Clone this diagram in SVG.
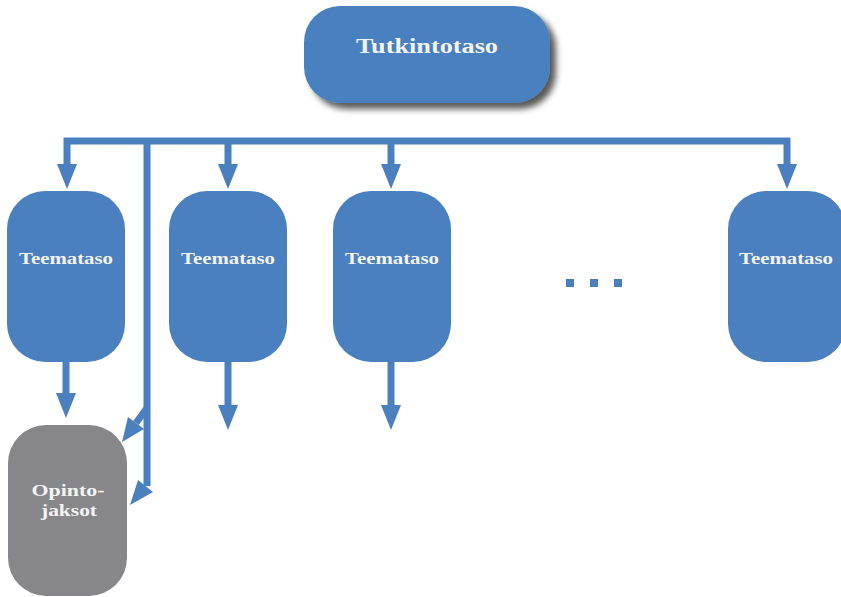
<svg xmlns="http://www.w3.org/2000/svg" width="841" height="597" viewBox="0 0 841 597">
<defs>
<style>
.box{fill:#4a80bf;}
.gray{fill:#87878a;}
.lbl{font-family:"Liberation Serif","DejaVu Serif",serif;font-weight:bold;fill:#f4f4f4;text-anchor:middle;}
.ln{stroke:#4a80bf;stroke-width:7;fill:none;}
.ah{fill:#4a80bf;}
</style>
<filter id="sh" x="-20%" y="-30%" width="140%" height="170%">
<feDropShadow dx="6" dy="6" stdDeviation="3" flood-color="#000" flood-opacity="0.65"/>
</filter>
</defs>
<g id="connectors">
<polyline class="ln" points="67,167 67,141 787,141 787,167"/>
<line class="ln" x1="228" y1="141" x2="228" y2="167"/>
<line class="ln" x1="391" y1="141" x2="391" y2="167"/>
<line class="ln" x1="147" y1="141" x2="147" y2="486"/>
<polygon class="ah" points="57,164 77,164 67,189"/>
<polygon class="ah" points="218,164 238,164 228,189"/>
<polygon class="ah" points="381,164 401,164 391,189"/>
<polygon class="ah" points="777,164 797,164 787,189"/>
<line class="ln" x1="66" y1="362" x2="66" y2="396"/>
<polygon class="ah" points="56,393 76,393 66,418"/>
<line class="ln" x1="228" y1="362" x2="228" y2="408"/>
<polygon class="ah" points="218,405 238,405 228,430"/>
<line class="ln" x1="391" y1="362" x2="391" y2="408"/>
<polygon class="ah" points="381,405 401,405 391,430"/>
<line class="ln" x1="147" y1="408" x2="136" y2="423"/>
<polygon class="ah" points="128,417 144,429 122,442"/>
<polygon class="ah" points="138,480 153,492 130,505"/>
</g>
<g id="tutkintotaso">
<rect class="box" x="304" y="6" width="246" height="97" rx="36" filter="url(#sh)"/>
<text class="lbl" x="427" y="53" font-size="22" textLength="142" lengthAdjust="spacingAndGlyphs">Tutkintotaso</text>
</g>
<g id="teema1">
<rect class="box" x="7" y="191" width="118" height="171" rx="38"/>
<text class="lbl" x="66" y="264" font-size="17" textLength="94" lengthAdjust="spacingAndGlyphs">Teemataso</text>
</g>
<g id="teema2">
<rect class="box" x="169" y="191" width="118" height="171" rx="38"/>
<text class="lbl" x="228" y="264" font-size="17" textLength="94" lengthAdjust="spacingAndGlyphs">Teemataso</text>
</g>
<g id="teema3">
<rect class="box" x="333" y="191" width="118" height="171" rx="38"/>
<text class="lbl" x="392" y="264" font-size="17" textLength="94" lengthAdjust="spacingAndGlyphs">Teemataso</text>
</g>
<g id="teema4">
<rect class="box" x="728" y="191" width="118" height="171" rx="38"/>
<text class="lbl" x="786" y="264" font-size="17" textLength="94" lengthAdjust="spacingAndGlyphs">Teemataso</text>
</g>
<g id="ellipsis">
<rect class="ah" x="566" y="279" width="8" height="8"/>
<rect class="ah" x="590" y="279" width="8" height="8"/>
<rect class="ah" x="614" y="279" width="8" height="8"/>
</g>
<g id="opintojaksot">
<rect class="gray" x="8" y="425" width="119" height="171" rx="38"/>
<text class="lbl" x="68" y="496" font-size="16" textLength="73" lengthAdjust="spacingAndGlyphs">Opinto-</text>
<text class="lbl" x="69" y="516" font-size="16" textLength="56" lengthAdjust="spacingAndGlyphs">jaksot</text>
</g>
</svg>
